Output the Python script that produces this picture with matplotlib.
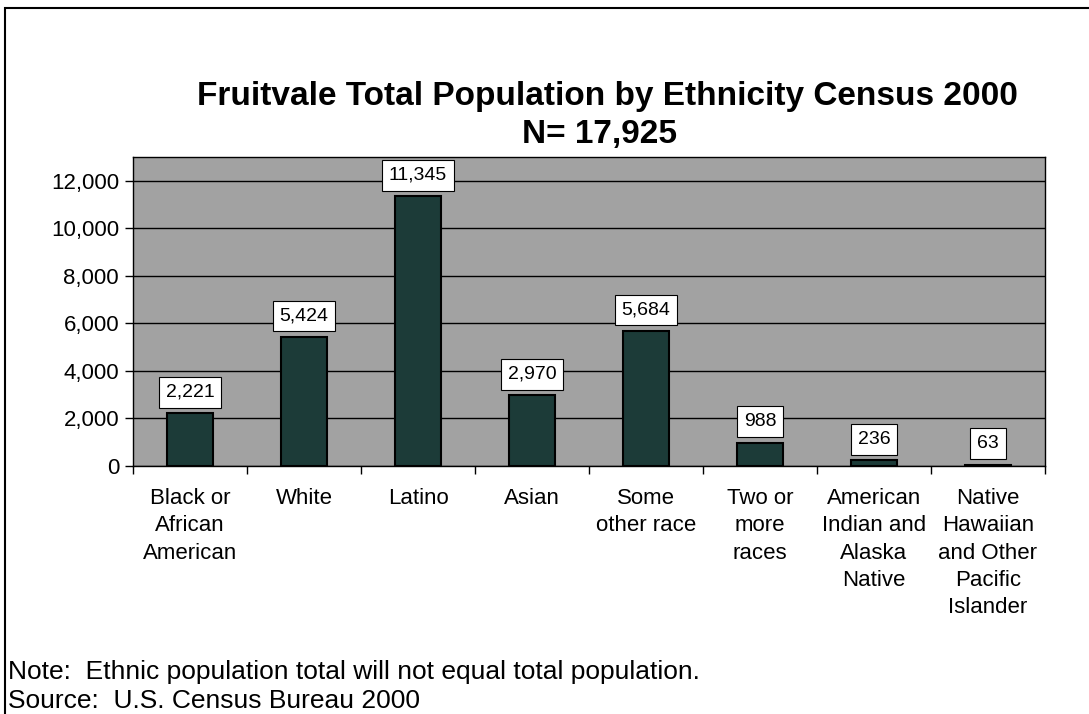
import matplotlib
matplotlib.use("Agg")
import matplotlib.pyplot as plt
from matplotlib.patches import Rectangle
from matplotlib.ticker import FuncFormatter, MultipleLocator, FixedLocator

categories = ["Black or\nAfrican\nAmerican", "White", "Latino", "Asian",
              "Some\nother race", "Two or\nmore\nraces",
              "American\nIndian and\nAlaska\nNative",
              "Native\nHawaiian\nand Other\nPacific\nIslander"]
values = [2221, 5424, 11345, 2970, 5684, 988, 236, 63]
title_line1 = "Fruitvale Total Population by Ethnicity Census 2000"
title_line2 = "N= 17,925"
note_lines = ["Note:  Ethnic population total will not equal total population.",
              "Source:  U.S. Census Bureau 2000"]

plt.rcParams['font.family'] = ['Liberation Sans', 'DejaVu Sans']

W, H = 1089, 714
fig = plt.figure(figsize=(W/100, H/100), dpi=100)
fig.patch.set_facecolor('white')

# outer frame
fig.patches.append(Rectangle((5/W, -0.02), 1.2, (H-8)/H + 0.02, transform=fig.transFigure,
                             fill=False, edgecolor='black', linewidth=1.5))

ax = fig.add_axes([133/W, 1-466/H, (1045-133)/W, (466-157)/H])
ax.set_facecolor('#a2a2a2')
x = list(range(len(values)))
ax.bar(x, values, width=0.4, color='#1c3b38', edgecolor='black', linewidth=1.5, zorder=3)
ax.set_xlim(-0.5, len(values)-0.5)
ax.set_ylim(0, 13000)
ax.yaxis.set_major_locator(MultipleLocator(2000))
ax.yaxis.set_major_formatter(FuncFormatter(lambda v, p: f"{int(v):,}"))
ax.grid(axis='y', color='black', linewidth=1.0, zorder=1)
ax.set_xticks(x)
ax.set_xticklabels(categories, fontsize=16, linespacing=1.39)
ax.tick_params(axis='x', which='major', length=0, pad=16)
ax.xaxis.set_minor_locator(FixedLocator([i - 0.5 for i in range(len(values)+1)]))
ax.tick_params(axis='x', which='minor', length=6, width=1)
ax.tick_params(axis='y', labelsize=16, length=6, width=1, pad=4)
for s in ax.spines.values():
    s.set_color('black')
    s.set_linewidth(1.0)

for xi, v in zip(x, values):
    ax.annotate(f"{v:,}", (xi, v), xytext=(0, 9), textcoords='offset points',
                ha='center', va='bottom', fontsize=14, zorder=5,
                bbox=dict(boxstyle='square,pad=0.35', facecolor='white', edgecolor='black', linewidth=0.8))

fig.text(607/W, 1-97/H, title_line1, ha='center', va='center', fontsize=24, fontweight='bold')
fig.text(600/W, 1-134/H, title_line2, ha='center', va='center', fontsize=24, fontweight='bold')

fig.text(8/W, 1-672/H, note_lines[0], ha='left', va='center', fontsize=19)
fig.text(8/W, 1-701/H, note_lines[1], ha='left', va='center', fontsize=19)

fig.savefig("out.png", dpi=100)
